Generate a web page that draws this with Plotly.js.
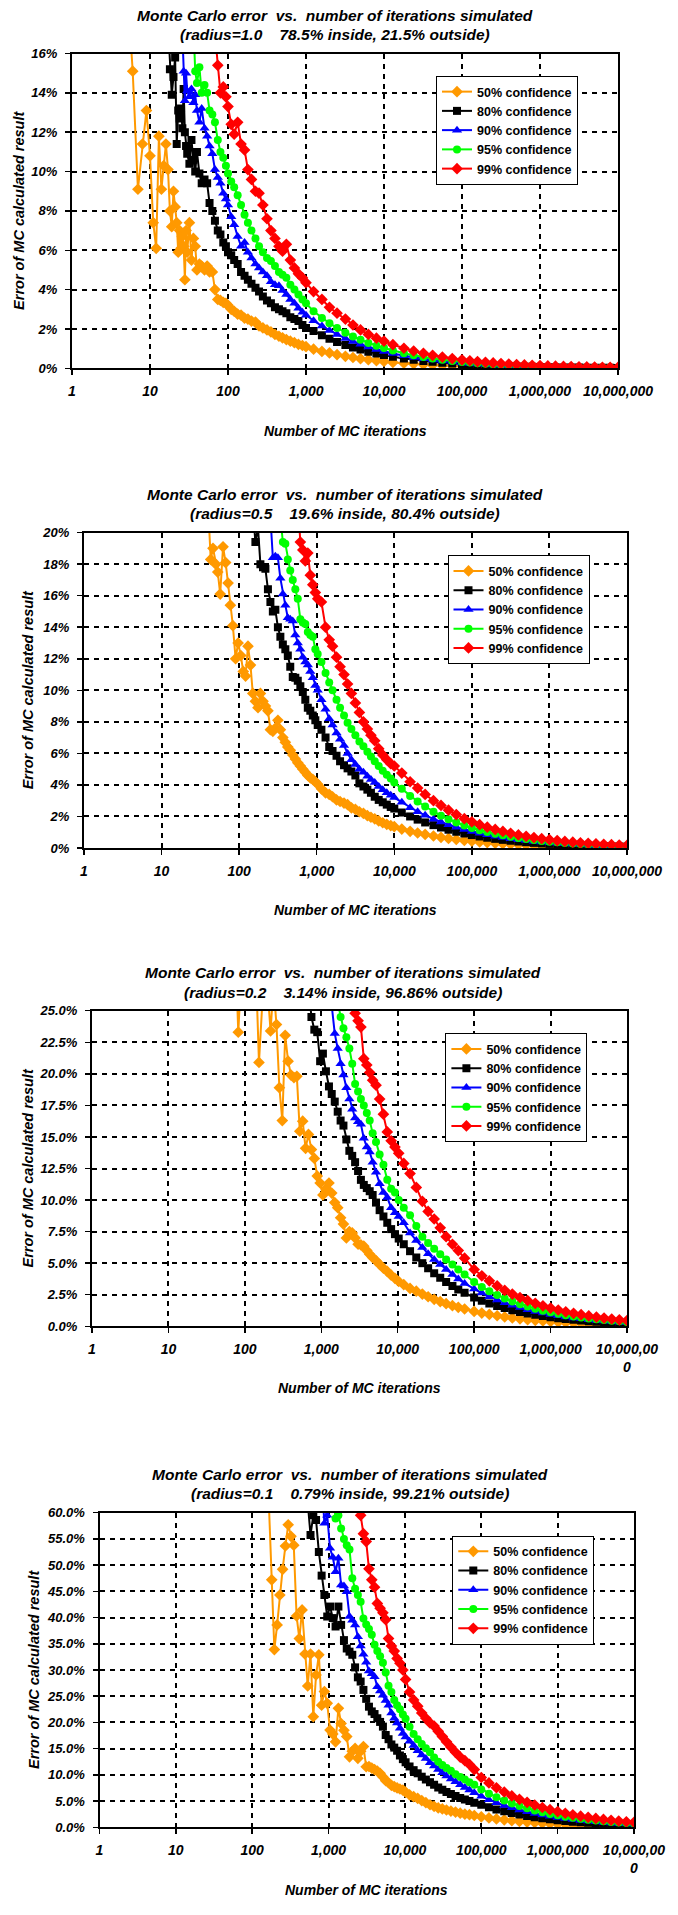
<!DOCTYPE html>
<html><head><meta charset="utf-8">
<script src="https://cdn.plot.ly/plotly-3.0.1.min.js"></script>
<style>html,body{margin:0;padding:0;background:#fff}#chart{width:678px;height:1915px}</style>
</head><body><div id="chart"></div>
<script>
// ---------------- DATA ----------------
const seriesNames = ["50% confidence","80% confidence","90% confidence","95% confidence","99% confidence"];
const xTickVals = [1,10,100,1000,10000,100000,1000000,10000000];
const xTickText = ["1","10","100","1,000","10,000","100,000","1,000,000","10,000,000"];
const xTickTextWrapped = ["1","10","100","1,000","10,000","100,000","1,000,000","10,000,00<br>0"];
const titleLine1 = "Monte Carlo error\u00a0\u00a0vs.\u00a0\u00a0number of iterations simulated";
const titleLine2 = [
  "(radius=1.0\u00a0\u00a0\u00a0\u00a078.5% inside, 21.5% outside)",
  "(radius=0.5\u00a0\u00a0\u00a0\u00a019.6% inside, 80.4% outside)",
  "(radius=0.2\u00a0\u00a0\u00a0\u00a03.14% inside, 96.86% outside)",
  "(radius=0.1\u00a0\u00a0\u00a0\u00a00.79% inside, 99.21% outside)"
];
const xAxisTitle = "Number of MC iterations";
const yAxisTitle = "Error of MC calculated result";

// Chart 1 (radius 1.0) - iterations and error (%) per confidence level
const c1Iter = [5,6,7,8,9,10,11,12,13,14,15,16,17,18,19,20,21,22,23,24,25,26,27,28,29,30,32,34,36,38,40,43,46,50,54,58,63,68,74,80,87,94,
 100,110,120,133,147,163,180,200,225,250,280,316,355,400,450,500,560,630,710,800,900,
 1000,1250,1600,2000,2500,3200,4000,5000,6300,8000,
 1e4,1.3e4,1.8e4,2.4e4,3.2e4,4.2e4,5.6e4,7.5e4,
 1e5,1.26e5,1.58e5,2e5,2.51e5,3.16e5,3.98e5,5.01e5,6.31e5,7.94e5,
 1e6,1.26e6,1.58e6,2e6,2.51e6,3.16e6,3.98e6,5.01e6,6.31e6,7.94e6,1e7];
const c1p50 = [20,15.1,9.1,11.4,13.1,10.8,7.4,6.1,11.8,9.1,10.3,11.4,10.1,8.0,7.2,9.0,8.2,7.4,5.9,7.0,6.1,6.7,6.2,4.5,7.0,5.9,7.4,5.5,6.6,6.2,5.0,5.3,5.2,5.0,5.2,4.9,4.9,4.0,3.5,3.45,3.35,3.3,
 3.2,3.0,2.9,2.75,2.7,2.55,2.5,2.4,2.35,2.15,2.05,1.95,1.85,1.72,1.63,1.55,1.46,1.38,1.3,1.22,1.16,
 1.1,0.97,0.86,0.78,0.69,0.61,0.55,0.49,0.44,0.39,
 0.35,0.3,0.26,0.225,0.195,0.17,0.148,0.128,
 0.111,0.099,0.088,0.079,0.07,0.062,0.056,0.05,0.044,0.039,
 0.035,0.031,0.028,0.025,0.022,0.02,0.018,0.016,0.014,0.012,0.011];
const c1p80 = [17.5,15.2,13.9,14.8,15.8,11.4,13.1,12.7,13.2,12.2,14.2,12.0,11.3,10.9,10.4,11.6,10.6,10.0,11.0,9.9,9.4,9.6,9.4,8.4,8.0,7.5,7.0,6.8,6.4,6.2,
 5.9,5.75,5.5,5.3,4.9,4.7,4.5,4.3,4.1,3.9,3.65,3.45,3.3,3.1,3.0,2.9,2.8,2.6,2.5,2.4,2.2,
 2.05,1.9,1.68,1.5,1.34,1.19,1.06,0.95,0.845,0.75,
 0.67,0.59,0.5,0.43,0.375,0.33,0.28,0.245,
 0.21,0.187,0.167,0.149,0.133,0.118,0.105,0.094,0.084,0.075,
 0.066,0.059,0.053,0.047,0.042,0.037,0.033,0.03,0.026,0.024,0.021];
const c1p90 = [17.0,15.1,13.6,15.0,14.1,13.8,14.2,13.5,13.9,13.1,12.5,13.2,12.2,11.8,11.3,10.9,10.1,9.7,9.4,8.9,8.6,
 8.3,7.7,7.3,6.7,6.2,6.4,5.9,5.6,5.3,5.1,4.9,4.7,4.4,4.25,4.2,3.95,3.75,3.5,3.3,3.05,2.85,
 2.7,2.42,2.15,1.92,1.72,1.52,1.36,1.22,1.08,0.96,
 0.86,0.755,0.64,0.555,0.48,0.42,0.365,0.315,
 0.27,0.241,0.214,0.191,0.17,0.152,0.135,0.121,0.107,0.096,
 0.085,0.076,0.068,0.06,0.054,0.048,0.043,0.038,0.034,0.03,0.027];
const c1p95 = [17.5,15.1,14.5,15.3,14.0,14.4,14.0,13.1,12.9,12.5,11.6,11.0,10.7,10.3,
 9.9,9.5,9.2,8.8,8.3,7.8,7.4,7.0,6.6,6.2,5.9,5.6,5.45,5.2,4.9,4.75,4.6,4.25,4.0,3.75,3.5,
 3.3,2.9,2.56,2.29,2.05,1.81,1.62,1.45,1.29,1.15,
 1.03,0.9,0.765,0.66,0.57,0.5,0.433,0.374,
 0.324,0.289,0.257,0.229,0.204,0.182,0.162,0.145,0.129,0.115,
 0.102,0.091,0.081,0.073,0.065,0.058,0.051,0.046,0.041,0.036,0.032];
const c1p99 = [17.0,15.4,14.0,14.3,13.8,
 13.3,12.4,11.9,12.5,11.4,11.1,10.1,9.6,9.0,8.9,8.3,7.6,7.0,6.6,6.2,5.95,6.3,5.5,5.1,4.8,4.6,
 4.35,3.9,3.5,3.1,2.8,2.5,2.2,1.95,1.72,1.53,
 1.38,1.2,1.02,0.88,0.76,0.66,0.57,0.495,
 0.43,0.383,0.341,0.304,0.271,0.242,0.215,0.192,0.171,0.153,
 0.136,0.121,0.108,0.096,0.086,0.077,0.068,0.061,0.054,0.048,0.043];

// Chart 2 (radius 0.5)
const c2Iter = [40,43,46,50,53,57,62,67,72,77,83,90,97,105,113,121,130,140,150,162,175,188,203,218,235,253,272,293,316,340,366,394,424,456,491,530,570,615,662,713,768,827,890,960,
 1030,1150,1300,1450,1600,1800,2000,2250,2500,2800,3150,3550,4000,4500,5000,5600,6300,7100,8000,9000,
 1e4,12500,16000,20000,25000,32000,40000,50000,63000,80000,
 1e5,1.26e5,1.58e5,2e5,2.51e5,3.16e5,3.98e5,5.01e5,6.31e5,7.94e5,
 1e6,1.26e6,1.58e6,2e6,2.51e6,3.16e6,3.98e6,5.01e6,6.31e6,7.94e6,1e7];
const c2p50 = [21.5,18.3,19.0,18.0,17.5,16.1,19.1,18.1,16.8,15.4,14.1,12.0,13.0,12.2,11.2,10.9,12.8,11.6,9.8,9.3,8.9,9.8,9.3,9.0,8.7,7.5,7.4,7.6,8.1,7.5,7.0,6.7,6.4,6.2,5.9,5.65,5.4,5.2,5.0,4.8,4.6,4.45,4.35,4.2,
 4.05,3.75,3.5,3.4,3.25,3.05,2.95,2.85,2.75,2.55,2.45,2.3,2.2,2.05,1.95,1.85,1.72,1.6,1.5,1.42,
 1.35,1.2,1.06,0.95,0.86,0.76,0.68,0.61,0.54,0.48,
 0.43,0.383,0.341,0.304,0.271,0.242,0.215,0.192,0.171,0.153,
 0.136,0.121,0.108,0.096,0.086,0.077,0.068,0.061,0.054,0.048,0.043];
const c2p80 = [21.5,19.4,20.3,18.0,17.8,17.7,16.4,15.6,15.0,15.1,14.0,13.4,12.9,12.6,12.2,11.5,10.85,10.8,10.6,10.25,9.9,9.4,8.9,8.7,8.4,8.1,
 7.8,7.5,7.0,6.4,6.15,5.85,5.5,5.25,5.05,4.85,4.6,4.1,3.9,3.7,3.5,3.25,3.05,2.9,2.75,2.6,
 2.5,2.25,2.0,1.8,1.62,1.45,1.3,1.16,1.03,0.92,
 0.82,0.731,0.651,0.581,0.517,0.461,0.411,0.367,0.326,0.291,
 0.259,0.231,0.206,0.184,0.164,0.146,0.13,0.116,0.103,0.092,0.082];
const c2p90 = [21.0,18.4,18.5,18.4,17.1,16.1,15.4,14.6,14.5,14.4,13.5,13.0,12.6,12.1,11.8,11.6,11.2,10.8,10.3,
 10.0,9.4,8.8,8.2,7.8,7.3,6.9,6.5,6.0,5.6,5.3,5.0,4.8,4.55,4.35,4.15,3.9,3.7,3.5,3.35,
 3.2,2.9,2.55,2.3,2.07,1.83,1.65,1.48,1.32,1.17,
 1.05,0.936,0.834,0.743,0.663,0.59,0.526,0.469,0.418,0.373,
 0.332,0.296,0.264,0.235,0.21,0.187,0.166,0.148,0.132,0.118,0.105];
const c2p95 = [21.0,19.4,19.3,18.3,17.6,17.0,16.4,15.8,14.5,14.3,14.2,13.7,13.5,13.4,12.6,
 12.3,11.8,11.1,10.5,10.0,9.4,8.9,8.4,7.95,7.55,7.15,6.75,6.45,6.1,5.8,5.5,5.2,4.9,4.65,4.4,
 4.15,3.75,3.3,2.95,2.63,2.3,2.05,1.83,1.62,1.43,
 1.27,1.13,1.01,0.899,0.801,0.714,0.636,0.568,0.505,0.451,
 0.401,0.358,0.319,0.284,0.254,0.226,0.201,0.179,0.16,0.142,0.127];
const c2p99 = [22.0,19.4,18.9,18.2,18.7,17.3,16.7,16.2,
 15.8,15.6,14.0,13.2,12.8,12.1,11.5,11.0,10.4,9.8,9.2,8.6,8.0,7.55,7.15,6.8,6.3,5.9,5.6,5.35,
 5.2,4.75,4.2,3.8,3.4,3.0,2.7,2.4,2.12,1.86,
 1.66,1.48,1.32,1.18,1.05,0.933,0.832,0.742,0.661,0.589,
 0.525,0.468,0.417,0.372,0.332,0.295,0.262,0.234,0.209,0.186,0.166];

// Chart 3 (radius 0.2)
const c3Iter = [75,82,90,98,107,117,128,140,153,167,182,199,217,237,259,283,309,337,368,402,439,479,523,571,623,680,743,811,885,966,1050,1150,1260,1370,1500,1640,1790,1950,2130,2330,2540,2770,3030,3300,3600,3940,4300,4700,
 5200,5800,6500,7300,8200,9200,10300,12000,14500,17500,21000,25000,30000,36000,43000,52000,62000,75000,
 1e5,1.26e5,1.58e5,2e5,2.51e5,3.16e5,3.98e5,5.01e5,6.31e5,7.94e5,
 1e6,1.26e6,1.58e6,2e6,2.51e6,3.16e6,3.98e6,5.01e6,6.31e6,7.94e6,1e7];
const c3p50 = [30,23.3,28,32,30,29,31,28,20.9,27,29,26.5,23.4,27,23.9,18.9,16.3,23.05,21.0,19.9,19.7,19.8,15.45,16.25,14.1,15.2,14.0,13.3,11.9,11.35,10.4,10.9,11.35,10.55,9.8,9.4,8.6,8.1,7.0,7.5,7.4,7.0,6.5,6.45,6.35,6.0,5.7,5.45,
 5.2,4.9,4.6,4.35,4.05,3.8,3.55,3.3,3.0,2.78,2.55,2.34,2.14,1.96,1.79,1.63,1.5,1.37,
 1.18,1.05,0.937,0.835,0.745,0.663,0.591,0.527,0.47,0.419,
 0.373,0.333,0.296,0.264,0.236,0.21,0.186,0.166,0.149,0.132,0.118];
const c3p80 = [27.0,24.5,23.5,23.3,21.0,21.6,20.2,19.0,18.4,17.8,17.0,16.3,15.9,14.8,13.9,13.5,13.0,12.3,11.6,11.2,10.95,10.7,10.4,
 9.8,9.2,8.7,8.2,7.7,7.3,6.95,6.5,5.95,5.45,5.0,4.6,4.2,3.85,3.5,3.2,2.92,2.65,
 2.28,2.03,1.81,1.61,1.44,1.28,1.14,1.02,0.907,0.809,
 0.72,0.643,0.572,0.511,0.456,0.406,0.36,0.321,0.287,0.255,0.228];
const c3p90 = [25.4,23.2,22.0,20.8,19.9,18.9,18.0,17.2,16.5,16.2,16.0,14.9,14.2,13.8,13.0,
 12.2,11.3,10.6,10.2,9.4,9.0,8.7,8.2,7.4,6.8,6.25,5.75,5.3,4.9,4.5,4.1,3.75,3.4,
 2.95,2.63,2.34,2.09,1.86,1.66,1.48,1.32,1.17,1.05,
 0.932,0.832,0.74,0.661,0.59,0.525,0.466,0.416,0.372,0.33,0.295];
const c3p95 = [25.6,24.5,23.6,22.9,22.0,20.8,19.2,18.6,18.0,17.5,16.9,16.3,15.3,
 14.6,13.6,12.8,11.6,10.9,10.6,10.0,9.4,8.8,7.95,7.1,6.6,6.15,5.7,5.3,4.9,4.5,4.1,
 3.5,3.12,2.78,2.48,2.21,1.97,1.75,1.56,1.39,1.24,
 1.11,0.987,0.879,0.784,0.7,0.623,0.553,0.494,0.441,0.392,0.35];
const c3p99 = [27.0,24.8,24.2,23.7,21.2,20.7,20.1,19.5,
 19.1,18.0,16.8,15.4,14.7,14.2,13.7,12.9,12.1,11.0,9.9,9.1,8.5,7.8,7.1,6.5,6.0,5.4,
 4.5,4.0,3.6,3.2,2.85,2.55,2.28,2.04,1.82,1.62,
 1.44,1.29,1.15,1.03,0.92,0.819,0.727,0.649,0.58,0.515,0.46];

// Chart 4 (radius 0.1)
const c4Iter = [150,165,180,195,212,230,250,272,296,322,350,381,414,450,490,533,580,631,686,746,811,882,960,1045,1135,1235,1345,1460,1590,1730,1880,2045,2225,2420,2630,2860,3110,3380,3680,4000,4350,4730,
 5150,5600,6100,6650,7250,7900,8600,9400,10200,11500,13000,14700,16600,18800,21300,24100,27300,30900,35000,40000,46000,53000,61000,70000,81000,
 1e5,1.26e5,1.58e5,2e5,2.51e5,3.16e5,3.98e5,5.01e5,6.31e5,7.94e5,
 1e6,1.26e6,1.58e6,2e6,2.51e6,3.16e6,3.98e6,5.01e6,6.31e6,7.94e6,1e7];
const c4p50 = [62,47.2,33.9,38.6,44.3,49.2,53.65,57.7,55.5,53.8,40.3,36.0,41.45,33.05,26.95,33.05,21.1,29.05,32.9,23.3,25.9,23.65,18.55,17.8,16.3,22.7,19.8,18.5,17.3,13.45,14.5,15.05,13.15,14.5,15.4,11.55,11.6,11.3,11.0,10.7,10.3,
 9.6,8.9,8.5,8.0,7.75,7.5,7.3,7.1,6.7,6.2,5.85,5.5,5.1,4.7,4.3,4.0,3.7,3.5,3.3,3.1,2.9,2.7,2.5,2.4,2.25,
 2.0,1.78,1.59,1.42,1.26,1.12,1.0,0.894,0.796,0.71,
 0.632,0.564,0.502,0.448,0.4,0.356,0.316,0.282,0.252,0.224,0.2];
const c4p80 = [62.0,55.75,59.5,58.6,52.5,48.0,44.3,40.2,42.1,39.9,38.3,42.1,38.6,35.7,34.1,33.5,32.9,30.5,28.6,27.8,26.2,24.5,23.0,22.1,21.6,20.8,20.1,
 19.2,17.6,16.8,15.8,15.2,14.6,13.7,13.0,12.4,11.6,10.9,10.3,9.65,9.1,8.6,8.1,7.6,7.15,6.75,6.35,5.95,5.6,5.3,5.0,4.7,
 4.3,3.83,3.41,3.04,2.71,2.42,2.15,1.92,1.71,1.53,
 1.36,1.21,1.08,0.963,0.86,0.765,0.679,0.606,0.542,0.482,0.43];
const c4p90 = [66.0,58.0,59.5,53.2,51.5,48.75,51.3,46.2,46.0,44.9,40.2,39.5,38.6,36.35,34.6,33.0,31.5,29.8,29.3,28.7,26.8,26.0,
 25.2,24.2,23.3,21.8,20.8,19.9,18.9,17.9,17.2,16.4,15.6,14.6,13.8,13.1,12.3,11.7,11.0,10.4,9.8,9.2,8.7,8.1,7.6,7.1,6.6,
 5.9,5.26,4.68,4.18,3.72,3.32,2.96,2.64,2.35,2.09,
 1.86,1.66,1.48,1.32,1.18,1.05,0.932,0.832,0.743,0.661,0.59];
const c4p95 = [64.0,58.9,59.5,57.0,55.0,53.8,53.0,47.5,45.5,44.3,43.0,39.8,38.7,37.8,36.7,34.8,33.6,32.6,
 31.4,29.5,27.0,25.8,24.3,23.3,22.5,21.5,20.7,19.2,17.8,16.8,15.9,15.1,14.3,13.3,12.5,11.9,11.3,10.8,10.1,9.6,9.1,8.6,8.1,
 7.2,6.42,5.72,5.1,4.54,4.05,3.61,3.22,2.87,2.56,
 2.28,2.03,1.81,1.61,1.44,1.28,1.14,1.02,0.907,0.806,0.72];
const c4p99 = [62.0,59.5,56.0,54.5,49.3,47.2,45.8,42.7,41.8,
 40.9,39.6,36.0,34.6,33.6,32.2,31.3,30.0,28.2,25.8,24.3,23.1,21.8,20.8,19.9,19.3,18.3,17.3,16.3,15.3,14.3,13.4,12.7,12.0,11.0,
 9.5,8.46,7.54,6.73,5.99,5.34,4.76,4.25,3.78,3.37,
 3.0,2.68,2.38,2.13,1.9,1.69,1.5,1.34,1.2,1.06,0.95];

// ---------------- LAYOUT / STYLE ----------------
const W = 678, H = 1915;
const FONT = "Liberation Sans, Arial, Helvetica, sans-serif";
const colors = ['#FF9900','#000000','#0000FF','#00FF00','#FF0000'];
const symbols = ['diamond','square','triangle-up','circle','diamond'];
const msizes = [9,8,9,8,9];

const charts = [
  {iter:c1Iter, ys:[c1p50,c1p80,c1p90,c1p95,c1p99], ticktext:xTickText, ymax:16, dtick:2, fmt:'.0f',
   box:{l:72,r:618,t:53.5,b:368.3}, titleX:335, titleY:[15.7,35], leg:{x:436,y:76}, xTitleY:431, yTitleX:19},
  {iter:c2Iter, ys:[c2p50,c2p80,c2p90,c2p95,c2p99], ticktext:xTickText, ymax:20, dtick:2, fmt:'.0f',
   box:{l:84,r:627,t:532.6,b:848}, titleX:345, titleY:[494.3,513.7], leg:{x:447.5,y:555.3}, xTitleY:910, yTitleX:28},
  {iter:c3Iter, ys:[c3p50,c3p80,c3p90,c3p95,c3p99], ticktext:xTickTextWrapped, ymax:25, dtick:2.5, fmt:'.1f',
   box:{l:92,r:627,t:1010.7,b:1326.3}, titleX:343, titleY:[972.3,992.3], leg:{x:445.4,y:1033.3}, xTitleY:1387.7, yTitleX:27},
  {iter:c4Iter, ys:[c4p50,c4p80,c4p90,c4p95,c4p99], ticktext:xTickTextWrapped, ymax:60, dtick:5, fmt:'.1f',
   box:{l:99.5,r:634,t:1512.7,b:1827.3}, titleX:350, titleY:[1474.3,1493.7], leg:{x:452.3,y:1535.7}, xTitleY:1890, yTitleX:34}
];

const traces = [];
const layout = {
  width: W, height: H, margin:{l:0,r:0,t:0,b:0}, autosize:false,
  paper_bgcolor:'#ffffff', plot_bgcolor:'#ffffff', showlegend:true,
  font:{family:FONT, color:'#000'}, annotations:[]
};

const tickFontX = {family:FONT, size:14, color:'#000', weight:'bold', style:'italic'};
const tickFontY = {family:FONT, size:13, color:'#000', weight:'bold', style:'italic'};

charts.forEach((c, i) => {
  const n = i === 0 ? '' : String(i + 1);
  const xa = 'x' + n, ya = 'y' + n, lg = 'legend' + n;
  c.ys.forEach((ys, k) => {
    traces.push({
      type:'scatter', mode:'lines+markers', name: seriesNames[k],
      x: c.iter.slice(c.iter.length - ys.length), y: ys,
      xaxis: xa, yaxis: ya, legend: lg,
      line:{color:colors[k], width:2},
      marker:{color:colors[k], symbol:symbols[k], size:msizes[k], line:{width:0}},
      cliponaxis:true
    });
  });
  const common = {
    showline:true, linecolor:'#000', linewidth:2, mirror:true,
    showgrid:true, gridcolor:'#000', gridwidth:2, griddash:'5px,5px',
    ticks:'outside', ticklen:5, tickwidth:1.5, tickcolor:'#000',
    zeroline:false, automargin:false, fixedrange:true
  };
  layout['xaxis' + n] = Object.assign({}, common, {
    domain:[c.box.l / W, c.box.r / W], anchor: ya, type:'log', range:[0, 7],
    tickmode:'array', tickvals: xTickVals, ticktext: c.ticktext, tickfont: tickFontX,
    ticklabelstandoff: 4
  });
  layout['yaxis' + n] = Object.assign({}, common, {
    domain:[1 - c.box.b / H, 1 - c.box.t / H], anchor: xa, range:[0, c.ymax],
    tick0:0, dtick:c.dtick, tickformat:c.fmt, ticksuffix:'%', tickfont: tickFontY,
    ticklabelstandoff: 5
  });
  layout[lg] = {
    x: c.leg.x / W, y: 1 - c.leg.y / H, xanchor:'left', yanchor:'top', xref:'paper', yref:'paper',
    bgcolor:'#ffffff', bordercolor:'#000', borderwidth:1,
    font:{family:FONT, size:12.5, color:'#000', weight:'bold'}, traceorder:'normal'
  };
  const tf = {family:FONT, size:15.5, color:'#000', weight:'bold', style:'italic'};
  layout.annotations.push(
    {text:titleLine1, x:c.titleX / W, y:1 - c.titleY[0] / H, xref:'paper', yref:'paper', showarrow:false, xanchor:'center', yanchor:'middle', font:tf},
    {text:titleLine2[i], x:c.titleX / W, y:1 - c.titleY[1] / H, xref:'paper', yref:'paper', showarrow:false, xanchor:'center', yanchor:'middle', font:tf},
    {text:xAxisTitle, x:(c.box.l + c.box.r) / 2 / W, y:1 - c.xTitleY / H, xref:'paper', yref:'paper', showarrow:false, xanchor:'center', yanchor:'middle',
     font:{family:FONT, size:14, color:'#000', weight:'bold', style:'italic'}},
    {text:yAxisTitle, textangle:-90, x:c.yTitleX / W, y:1 - (c.box.t + c.box.b) / 2 / H, xref:'paper', yref:'paper', showarrow:false, xanchor:'center', yanchor:'middle',
     font:{family:FONT, size:14.5, color:'#000', weight:'bold', style:'italic'}}
  );
});

Plotly.newPlot('chart', traces, layout, {staticPlot:true, displayModeBar:false});
</script>
</body></html>
